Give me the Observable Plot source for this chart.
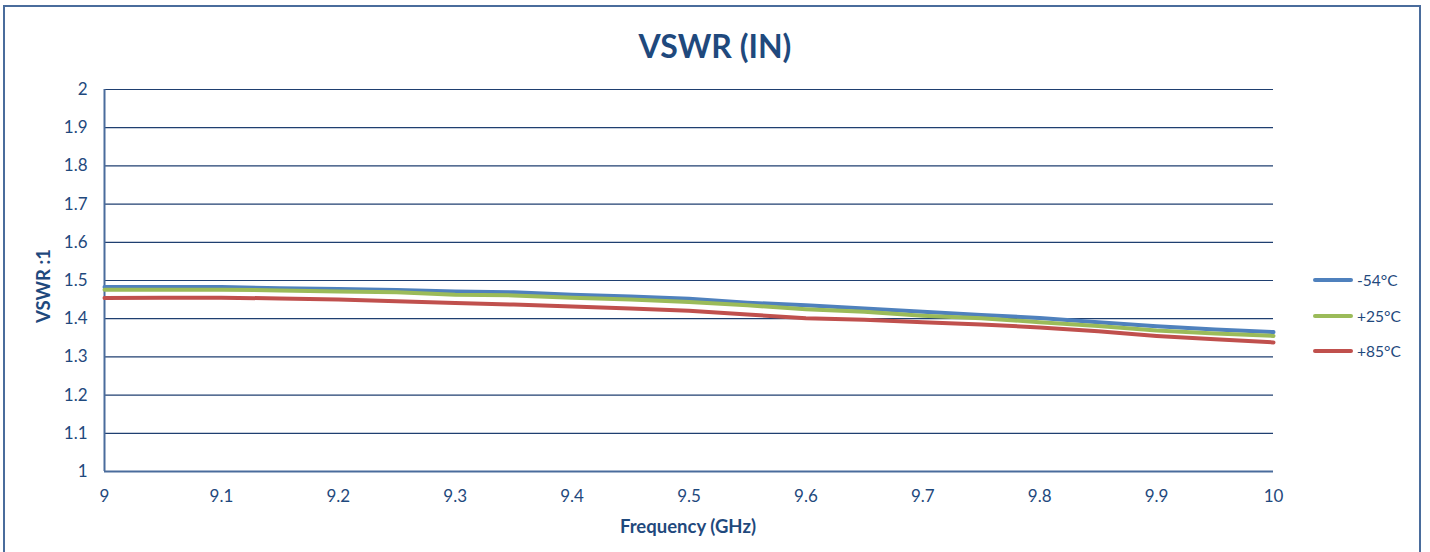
<!DOCTYPE html>
<html>
<head>
<meta charset="utf-8">
<script src="https://cdn.jsdelivr.net/npm/d3@7"></script>
<script src="https://cdn.jsdelivr.net/npm/@observablehq/plot@0.6"></script>
<style>
  html, body { margin: 0; padding: 0; background: #fff; }
  #wrap { position: relative; width: 1430px; height: 552px; overflow: hidden; font-family: Lato, "Open Sans", sans-serif; }
  #frame { position: absolute; left: 3px; top: 5px; width: 1418px; height: 600px; border: 2px solid #4a6c9c; box-sizing: border-box; }
  #title { position: absolute; left: 0; width: 1430px; top: 26px; text-align: center; font-weight: bold; font-size: 32px; color: #1f497d; }
  #chart { position: absolute; left: 0; top: 0; }
  .axlabel { position: absolute; font-weight: bold; font-size: 18.5px; color: #1f497d; white-space: nowrap; line-height: 20px; height: 20px; }
  #xlabel { left: 488px; width: 400px; top: 516px; text-align: center; }
  #ylabel { left: -157px; width: 400px; top: 276px; text-align: center; transform: rotate(-90deg); transform-origin: 200px 10px; }
  .leg { position: absolute; left: 1313px; font-size: 15.5px; color: #1f497d; display: flex; align-items: center; }
  .leg span.sw { display: inline-block; width: 40px; height: 4px; border-radius: 2px; margin-right: 4px; }
</style>
</head>
<body>
<div id="wrap">
  <div id="frame"></div>
  <div id="chart"></div>
  <div id="title">VSWR (IN)</div>
  <div id="xlabel" class="axlabel">Frequency (GHz)</div>
  <div id="ylabel" class="axlabel">VSWR :1</div>
  <div id="legend"></div>
</div>
<script>
const freq = [9.00, 9.05, 9.10, 9.15, 9.20, 9.25, 9.30, 9.35, 9.40, 9.45, 9.50, 9.55, 9.60, 9.65, 9.70, 9.75, 9.80, 9.85, 9.90, 9.95, 10.00];
const vswrM54 = [1.483, 1.483, 1.483, 1.480, 1.478, 1.475, 1.471, 1.469, 1.463, 1.458, 1.452, 1.442, 1.435, 1.427, 1.418, 1.410, 1.402, 1.391, 1.380, 1.372, 1.365];
const vswrP25 = [1.476, 1.476, 1.476, 1.474, 1.471, 1.469, 1.463, 1.461, 1.455, 1.450, 1.444, 1.435, 1.425, 1.418, 1.408, 1.401, 1.391, 1.381, 1.369, 1.361, 1.355];
const vswrP85 = [1.454, 1.455, 1.455, 1.453, 1.450, 1.446, 1.441, 1.437, 1.432, 1.427, 1.421, 1.411, 1.401, 1.397, 1.391, 1.385, 1.377, 1.367, 1.355, 1.346, 1.338];
const seriesNames = ["-54°C", "+25°C", "+85°C"];
const seriesColors = ["#4f81bd", "#9bbb59", "#c0504d"];
const xTicks = [9, 9.1, 9.2, 9.3, 9.4, 9.5, 9.6, 9.7, 9.8, 9.9, 10];
const yTicks = [1, 1.1, 1.2, 1.3, 1.4, 1.5, 1.6, 1.7, 1.8, 1.9, 2];

const allSeries = [vswrM54, vswrP25, vswrP85];
const rows = [];
allSeries.forEach((vals, si) => {
  vals.forEach((v, i) => rows.push({ series: seriesNames[si], f: freq[i], v }));
});

const textColor = "#1f497d";
const chart = Plot.plot({
  width: 1430,
  height: 552,
  marginLeft: 104,
  marginRight: 157,
  marginTop: 89,
  marginBottom: 81,
  style: { fontFamily: "Lato, 'Open Sans', sans-serif", fontSize: "17px", color: textColor, background: "transparent" },
  x: { domain: [9, 10], label: null },
  y: { domain: [1, 2], label: null },
  color: { domain: seriesNames, range: seriesColors },
  marks: [
    Plot.ruleY(yTicks.filter(d => d !== 1), { stroke: "#1f3f70", strokeWidth: 1.2 }),
    Plot.ruleY([1], { stroke: "#4a6c9c", strokeWidth: 2 }),
    Plot.ruleX([9], { stroke: "#4a6c9c", strokeWidth: 2 }),
    Plot.axisX({ ticks: xTicks, tickSize: 0, tickPadding: 18, tickFormat: d => String(+d.toFixed(1)), label: null, fill: textColor, fontSize: 17 }),
    Plot.axisY({ ticks: yTicks, tickSize: 0, tickPadding: 17, tickFormat: d => String(+d.toFixed(1)), label: null, fill: textColor, fontSize: 17 }),
    ...seriesNames.map(name => Plot.line(rows.filter(r => r.series === name), {
      x: "f", y: "v", stroke: "series", strokeWidth: 4, strokeLinejoin: "round", strokeLinecap: "round"
    }))
  ]
});
document.getElementById("chart").appendChild(chart);

const legTops = [280, 315.5, 351];
const legend = document.getElementById("legend");
seriesNames.forEach((name, i) => {
  const d = document.createElement("div");
  d.className = "leg";
  d.style.top = (legTops[i] - 10) + "px";
  d.style.height = "20px";
  d.innerHTML = `<span class="sw" style="background:${seriesColors[i]}"></span>${name}`;
  legend.appendChild(d);
});
</script>
</body>
</html>
